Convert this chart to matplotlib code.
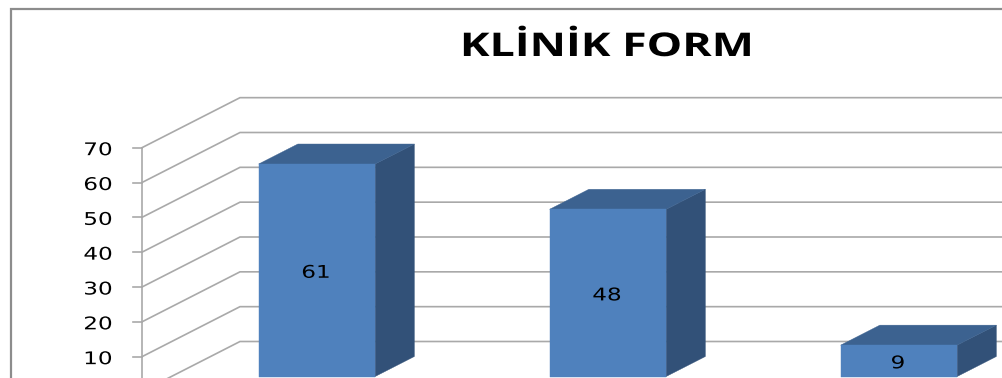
import matplotlib
matplotlib.use("Agg")
import matplotlib.pyplot as plt
import matplotlib.patheffects as pe
from matplotlib.patches import Polygon
from matplotlib.transforms import Affine2D

categories = ["A", "B", "C"]
values = [61, 48, 9]
value_ticks = [0, 10, 20, 30, 40, 50, 60, 70]
labelled_ticks = [10, 20, 30, 40, 50, 60, 70]
title_text = "KLİNİK FORM"

W, H = 1003, 378
SLOT_PX = 291.0        # width of one category slot
UNIT_PX = 3.4833       # height of one value unit
ORIGIN_X, ORIGIN_Y = 142.0, 391.5
DEPTH_X_PX, DEPTH_Y_PX = 98.0, 50.0
BAR_WIDTH = 116.5 / SLOT_PX
DEPTH_FRONT, DEPTH_BACK = 0.3, 0.7

FRONT = "#4f81bd"
TOP = "#3c6290"
SIDE = "#325178"
GRID = "#a9a9a9"
FRAME = "#8c8c8c"


class WideText(pe.AbstractPathEffect):
    """Stretches a text's outline horizontally about its own centre."""

    def __init__(self, factor):
        super().__init__()
        self.factor = factor

    def draw_path(self, renderer, gc, tpath, affine, rgbFace=None):
        box = tpath.get_extents(affine)
        cx = 0.5 * (box.x0 + box.x1)
        wide = affine + Affine2D().translate(-cx, 0).scale(self.factor, 1).translate(cx, 0)
        renderer.draw_path(gc, tpath, wide, rgbFace)


fig = plt.figure(figsize=(W / 100, H / 100), dpi=100, facecolor="white")
ax = fig.add_axes([0, 0, 1, 1])
ax.set_xlim(-ORIGIN_X / SLOT_PX, (W - ORIGIN_X) / SLOT_PX)
ax.set_ylim((ORIGIN_Y - H) / UNIT_PX, ORIGIN_Y / UNIT_PX)
ax.axis("off")


def project(x, v, d=0.0):
    """Oblique projection: depth d shifts a point right and up."""
    return x + d * DEPTH_X_PX / SLOT_PX, v + d * DEPTH_Y_PX / UNIT_PX


def number_label(x, v, text, dx=0.0, dy=0.0):
    ax.annotate(text, xy=(x, v), xytext=(dx, dy), textcoords="offset pixels",
                ha="center", va="center", fontsize=12.6, color="black",
                family="DejaVu Sans", zorder=5,
                path_effects=[WideText(1.32)])


x_end = (W + 10 - ORIGIN_X) / SLOT_PX

# Side wall and back wall gridlines
for v in value_ticks:
    p0 = project(0, v, 0)
    p1 = project(0, v, 1)
    ax.plot([p0[0], p1[0], x_end], [p0[1], p1[1], p1[1]], color=GRID, lw=1.2,
            solid_joinstyle="miter", zorder=1)

# Value axis with outward ticks
ax.plot([0, 0], [0, value_ticks[-1]], color=GRID, lw=1.2, zorder=1)
tick_len = 9.0 / SLOT_PX
for v in value_ticks:
    ax.plot([-tick_len, 0], [v, v], color=GRID, lw=1.2, zorder=1)
for v in labelled_ticks:
    number_label(-44.0 / SLOT_PX, v, str(v), dy=-2.5)

# Bars: front, top and side faces
for i, (cat, val) in enumerate(zip(categories, values)):
    left = i + (1 - BAR_WIDTH) / 2
    right = left + BAR_WIDTH
    front = [project(left, 0, DEPTH_FRONT), project(right, 0, DEPTH_FRONT),
             project(right, val, DEPTH_FRONT), project(left, val, DEPTH_FRONT)]
    top = [project(left, val, DEPTH_FRONT), project(right, val, DEPTH_FRONT),
           project(right, val, DEPTH_BACK), project(left, val, DEPTH_BACK)]
    side = [project(right, 0, DEPTH_FRONT), project(right, 0, DEPTH_BACK),
            project(right, val, DEPTH_BACK), project(right, val, DEPTH_FRONT)]
    ax.add_patch(Polygon(side, closed=True, fc=SIDE, ec=SIDE, lw=0.3, zorder=2))
    ax.add_patch(Polygon(top, closed=True, fc=TOP, ec=TOP, lw=0.3, zorder=2))
    ax.add_patch(Polygon(front, closed=True, fc=FRONT, ec=FRONT, lw=0.3, zorder=3))
    cx, cy = project(i + 0.5, val / 2, DEPTH_FRONT)
    number_label(cx, cy, str(val), dx=-1.0, dy=-2.5)

# Chart frame, running off the top right
fig.add_artist(plt.Line2D([11 / W, 11 / W, 1.02], [0, 1 - 9 / H, 1 - 9 / H],
                          transform=fig.transFigure, color=FRAME, lw=1.6,
                          solid_joinstyle="miter"))

fig.text(606.5 / W, 1 - 47.5 / H, title_text, ha="center", va="center",
         fontsize=23.5, fontweight="bold", family="Open Sans", color="black",
         path_effects=[WideText(1.37)])

fig.savefig("out.png", dpi=100, facecolor="white")
